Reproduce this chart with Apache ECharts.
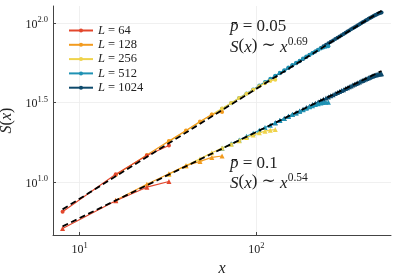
<!DOCTYPE html>
<html>
<head>
<meta charset="utf-8">
<script src="https://cdn.jsdelivr.net/npm/echarts@6/dist/echarts.min.js"></script>
<style>html,body{margin:0;padding:0;background:#fff}#c{width:399px;height:277px}</style>
</head>
<body>
<div id="c"></div>
<script>
// ---- data ----
const seriesNames = ['L = 64', 'L = 128', 'L = 256', 'L = 512', 'L = 1024'];
const xL64 = [8, 16, 24, 32];
const xL128 = [16, 24, 32, 40, 48, 56, 64];
const xL256 = [32, 40, 48, 56, 64, 72, 80, 88, 96, 104, 112, 120, 128];
const xL512 = [64, 72, 80, 88, 96, 104, 112, 120, 128, 136, 144, 152, 160, 168, 176, 184, 192, 200, 208, 216, 224, 232, 240, 248, 256];
const xL1024 = [128, 136, 144, 152, 160, 168, 176, 184, 192, 200, 208, 216, 224, 232, 240, 248, 256, 264, 272, 280, 288, 296, 304, 312, 320, 328, 336, 344, 352, 360, 368, 376, 384, 392, 400, 408, 416, 424, 432, 440, 448, 456, 464, 472, 480, 488, 496, 504, 512];

// p = 0.05 (circles)
const sHi64 = [6.52, 11.2, 14.7, 17.0];
const sHi128 = [11.1, 14.8, 18.1, 21.1, 24.0, 26.6, 27.6];
const sHi256 = [18.0, 21.0, 23.9, 26.6, 29.0, 31.4, 33.7, 35.9, 38.0, 40.0, 41.8, 43.2, 44.0];
const sHi512 = [28.9, 31.3, 33.7, 36.0, 38.2, 40.4, 42.5, 44.6, 46.6, 48.6, 50.5, 52.4, 54.3, 56.1, 57.9, 59.7, 61.4, 63.1, 64.7, 66.2, 67.7, 69.0, 70.1, 70.9, 71.3];
const sHi1024 = [46.2, 48.2, 50.1, 52.0, 53.9, 55.7, 57.5, 59.3, 61.1, 62.8, 64.5, 66.2, 67.9, 69.6, 71.2, 72.8, 74.4, 76.0, 77.6, 79.1, 80.7, 82.2, 83.7, 85.2, 86.7, 88.2, 89.6, 91.1, 92.5, 93.9, 95.3, 96.7, 98.1, 99.4, 100.8, 102.1, 103.4, 104.7, 106.0, 107.3, 108.5, 109.7, 110.9, 112.0, 113.0, 114.0, 114.9, 115.6, 116.1];

// p = 0.1 (triangles)
const sLo64 = [5.12, 7.65, 9.3, 10.1];
const sLo128 = [7.7, 9.7, 11.3, 12.7, 13.5, 14.3, 14.6];
const sLo256 = [11.2, 12.7, 14.0, 15.3, 16.4, 17.3, 18.2, 19.1, 19.8, 20.4, 20.9, 21.2, 21.4];
const sLo512 = [16.3, 17.4, 18.4, 19.4, 20.3, 21.2, 22.0, 22.8, 23.6, 24.4, 25.1, 25.9, 26.6, 27.2, 27.9, 28.5, 29.1, 29.7, 30.2, 30.7, 31.1, 31.4, 31.6, 31.7, 31.7];
const sLo1024 = [23.6, 24.4, 25.1, 25.9, 26.6, 27.3, 28.0, 28.7, 29.4, 30.0, 30.7, 31.3, 31.9, 32.5, 33.1, 33.7, 34.3, 34.9, 35.4, 36.0, 36.5, 37.1, 37.6, 38.1, 38.7, 39.2, 39.7, 40.2, 40.7, 41.2, 41.7, 42.1, 42.6, 43.1, 43.5, 44.0, 44.4, 44.8, 45.2, 45.6, 46.0, 46.4, 46.7, 47.0, 47.3, 47.5, 47.7, 47.8, 47.9];

// power-law fits (dashed)
const fitX = [8, 512];
const fitHi = [6.75, 119.0];
const fitLo = [5.28, 49.9];

const xTicks = [10, 100];
const yTicks = [10, 31.6227766, 100];

// ---- chart ----
const colors = ['#e3472c', '#f29b1f', '#efd34b', '#1f92b4', '#0e4a6c'];
const xs = [xL64, xL128, xL256, xL512, xL1024];
const hi = [sHi64, sHi128, sHi256, sHi512, sHi1024];
const lo = [sLo64, sLo128, sLo256, sLo512, sLo1024];
const zip = (a, b) => a.map((v, i) => [v, b[i]]);
const SERIF = '"Liberation Serif", "DejaVu Serif", serif';

const series = [];
for (let i = 0; i < 5; i++) {
  series.push({
    name: seriesNames[i], type: 'line', data: zip(xs[i], hi[i]),
    symbol: 'circle', symbolSize: 4, z: 10 - i,
    lineStyle: {width: 1.2, color: colors[i]}, itemStyle: {color: colors[i]}
  });
  series.push({
    name: seriesNames[i], type: 'line', data: zip(xs[i], lo[i]),
    symbol: 'triangle', symbolSize: 5, z: 10 - i,
    lineStyle: {width: 1.2, color: colors[i]}, itemStyle: {color: colors[i]}
  });
}
series.push({type: 'line', name: 'fit1', data: zip(fitX, fitHi), symbol: 'none', z: 20,
  lineStyle: {color: '#000', width: 1.8, type: [6, 3.5]}});
series.push({type: 'line', name: 'fit2', data: zip(fitX, fitLo), symbol: 'none', z: 20,
  lineStyle: {color: '#000', width: 1.8, type: [6, 3.5]}});

const supRich = {
  b: {fontFamily: SERIF, fontSize: 12, color: '#222', verticalAlign: 'bottom'},
  s: {fontFamily: SERIF, fontSize: 8.5, color: '#222', verticalAlign: 'top', padding: [0, 0, 6, 0]}
};
const annRich = {
  i: {fontFamily: SERIF, fontStyle: 'italic', fontSize: 17, verticalAlign: 'bottom'},
  s: {fontFamily: SERIF, fontSize: 11.5, verticalAlign: 'top', padding: [0, 0, 8, 0]}
};

const chart = echarts.init(document.getElementById('c'), null, {renderer: 'canvas'});
chart.setOption({
  animation: false,
  backgroundColor: '#fff',
  color: colors,
  grid: {left: 53, right: 8, top: 6, bottom: 42, containLabel: false, outerBoundsMode: 'none'},
  legend: {
    data: seriesNames, orient: 'vertical', left: 63, top: 19,
    itemWidth: 24, itemHeight: 5, itemGap: 1.3,
    textStyle: {fontFamily: SERIF, fontSize: 12.5, color: '#222', lineHeight: 12,
      rich: {i: {fontFamily: SERIF, fontStyle: 'italic', fontSize: 12.5, color: '#222'}}},
    formatter: n => '{i|L}' + n.slice(1)
  },
  xAxis: {
    type: 'log', logBase: 10, min: 7.06, max: 579,
    name: 'x', nameLocation: 'middle', nameGap: 22,
    nameTextStyle: {fontFamily: SERIF, fontStyle: 'italic', fontSize: 16, color: '#222'},
    axisLine: {lineStyle: {color: '#444', width: 1}},
    axisTick: {show: true, inside: true, length: 3, customValues: xTicks, lineStyle: {color: '#444'}},
    axisLabel: {customValues: xTicks, margin: 6, formatter: v => '{b|10}{s|' + Math.round(Math.log10(v)) + '}', rich: supRich},
    splitLine: {show: true, customValues: xTicks, lineStyle: {color: '#ececec', width: 0.8}},
    minorTick: {show: false}
  },
  yAxis: {
    type: 'log', logBase: 3.16227766, min: 4.66, max: 127.6,
    name: '{i|S}(' + '{i|x})', nameLocation: 'middle', nameGap: 33, nameRotate: 90,
    nameTextStyle: {fontFamily: SERIF, fontSize: 16, color: '#222',
      rich: {i: {fontFamily: SERIF, fontStyle: 'italic', fontSize: 16, color: '#222'}}},
    axisLine: {show: true, lineStyle: {color: '#444', width: 1}},
    axisTick: {show: true, inside: true, length: 3, customValues: yTicks, lineStyle: {color: '#444'}},
    axisLabel: {customValues: yTicks, margin: 5, formatter: v => '{b|10}{s|' + Math.log10(v).toFixed(1) + '}', rich: supRich},
    splitLine: {show: true, customValues: yTicks, lineStyle: {color: '#ececec', width: 0.8}}
  },
  series: series,
  graphic: [
    {type: 'text', left: 230, top: 18, z: 50, style: {text: '{i|p̄} = 0.05', fontFamily: SERIF, fontSize: 17, fill: '#222', rich: annRich}},
    {type: 'text', left: 230, top: 36, z: 50, style: {text: '{i|S}({i|x}) ∼ {i|x}{s|0.69}', fontFamily: SERIF, fontSize: 17, fill: '#222', rich: annRich}},
    {type: 'text', left: 230, top: 155, z: 50, style: {text: '{i|p̄} = 0.1', fontFamily: SERIF, fontSize: 17, fill: '#222', rich: annRich}},
    {type: 'text', left: 230, top: 172, z: 50, style: {text: '{i|S}({i|x}) ∼ {i|x}{s|0.54}', fontFamily: SERIF, fontSize: 17, fill: '#222', rich: annRich}}
  ]
});
</script>
</body>
</html>
